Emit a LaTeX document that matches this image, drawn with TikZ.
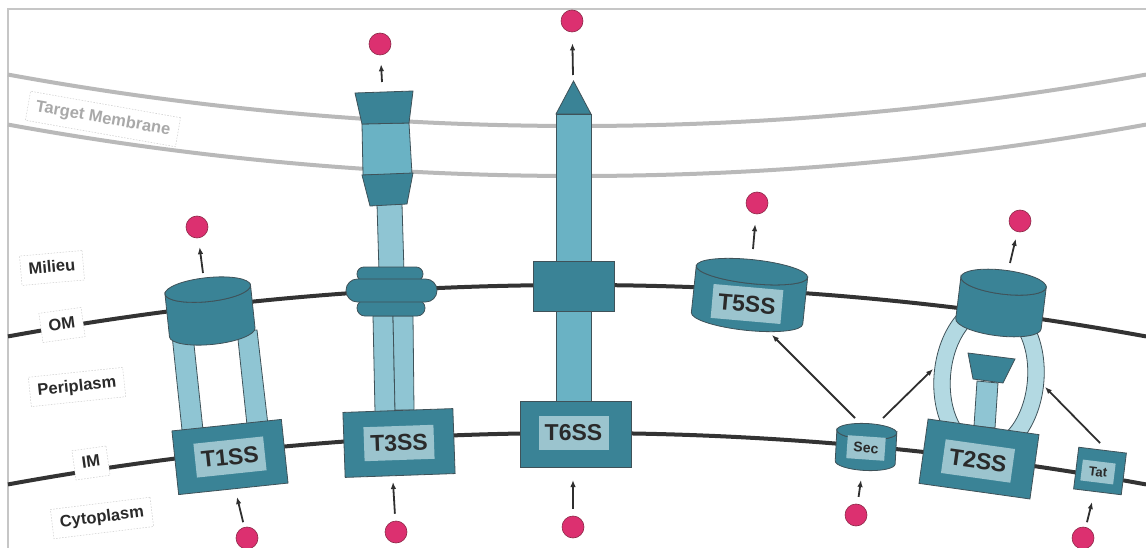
\documentclass[tikz,border=0pt]{standalone}
\usepackage{fontspec}
\setmainfont{Liberation Sans}
\usetikzlibrary{arrows.meta}

\definecolor{tealdark}{HTML}{3A8396}
\definecolor{tealmid}{HTML}{6AB2C4}
\definecolor{teallight}{HTML}{8FC5D3}
\definecolor{ringc}{HTML}{B3D9E2}
\definecolor{labfill}{HTML}{9BC4CE}
\definecolor{outlc}{HTML}{3F5259}
\definecolor{textc}{HTML}{2A2A2A}
\definecolor{memc}{HTML}{333333}
\definecolor{targetc}{HTML}{B9B9B9}
\definecolor{framec}{HTML}{C6C6C6}
\definecolor{pinkc}{HTML}{DC3070}
\definecolor{pinkedge}{HTML}{8C2848}
\definecolor{arrowc}{HTML}{2F2F2F}
\definecolor{targettext}{HTML}{A9A9A9}

% sag of the curved membranes (circle of radius 3174 around x = 577)
\newcommand\membranesag[1]{100*(31.74-sqrt(1007.43-((#1-577)/100)^2))}

\tikzset{
  outl/.style={draw=outlc, line width=0.8pt},
  darkpart/.style={fill=tealdark, outl},
  midpart/.style={fill=tealmid, outl},
  lightpart/.style={fill=teallight, outl},
  blockbox/.style={darkpart, shape=rectangle, inner sep=0pt},
  ringpart/.style={darkpart, shape=rectangle, inner sep=0pt},
  namebox/.style={fill=labfill, inner sep=0pt, text=textc,
    minimum width=70, minimum height=34,
    font=\bfseries\fontsize{23}{23}\selectfont},
  smallname/.style={fill=labfill, inner sep=0pt, text=textc,
    font=\bfseries\fontsize{14}{14}\selectfont},
  zone/.style={fill=white, draw=black!20, dash pattern=on 1.5pt off 1.5pt,
    line width=0.5pt, text=textc, inner xsep=8pt, inner ysep=7pt,
    text height=12pt, text depth=3.5pt,
    font=\bfseries\fontsize{16.5}{18}\selectfont},
  cellline/.style={draw=memc, line width=4pt},
  targetline/.style={draw=targetc, line width=4pt},
  frameline/.style={draw=framec, line width=2pt},
  flow/.style={draw=arrowc, line width=1.8pt, -{Latex[length=7pt,width=5.5pt]}},
  cargo/.style={circle, fill=pinkc, draw=pinkedge, line width=0.6pt,
    minimum size=22pt, inner sep=0pt},
  pics/drum/.style n args={3}{code={
    \path[darkpart] (-#1,#3/2) -- (-#1,-#3/2)
      arc[start angle=180,end angle=360,x radius=#1,y radius=#2]
      -- (#1,#3/2)
      arc[start angle=0,end angle=-180,x radius=#1,y radius=#2] -- cycle;
    \path[darkpart] (0,#3/2) ellipse[x radius=#1,y radius=#2];
  }},
}

\begin{document}
\begin{tikzpicture}[x=1pt,y=1pt]
\useasboundingbox (0,0) rectangle (1146,-548);

% frame
\draw[frameline] (8,-548) -- (8,-9) -- (1146,-9);

% target membrane
\draw[targetline] plot[domain=8:1146,samples=120] (\x,{\membranesag{\x}-126});
\draw[targetline] plot[domain=8:1146,samples=120] (\x,{\membranesag{\x}-176});

% outer and inner membranes
\draw[cellline] plot[domain=8:1146,samples=120] (\x,{-285-\membranesag{\x}});
\draw[cellline] plot[domain=8:1146,samples=120] (\x,{-433-\membranesag{\x}});

% ---------- T1SS ----------
\path[lightpart] (172,-335) -- (193,-335) -- (203,-430) -- (182,-430) -- cycle;
\path[lightpart] (237,-330) -- (257,-330) -- (268,-425) -- (247,-425) -- cycle;
\pic[rotate=6] at (210,-311) {drum={43}{12}{43}};
\node[blockbox, minimum width=110, minimum height=64, rotate=6] (t1) at (230,-457) {};
\node[namebox, rotate=6] (t1name) at (t1) {T1SS};

% ---------- T3SS ----------
\path[lightpart] (373,-316) -- (393,-316) -- (395,-412) -- (375,-412) -- cycle;
\path[lightpart] (393,-316) -- (413,-316) -- (414,-410) -- (395,-410) -- cycle;
\node[blockbox, minimum width=110, minimum height=65, rotate=2] (t3) at (399,-443) {};
\node[namebox, rotate=2] (t3name) at (t3) {T3SS};
\path[lightpart] (377,-204) -- (402,-204) -- (404,-272) -- (379,-272) -- cycle;
\node[ringpart, minimum width=66, minimum height=14, rounded corners=6.9pt] (ringtop) at (390,-274) {};
\node[ringpart, minimum width=68, minimum height=16, rounded corners=7.9pt] (ringbot) at (391,-308) {};
\node[ringpart, minimum width=91, minimum height=23, rounded corners=11.4pt] (ringmid) at (391.5,-290.5) {};
\path[midpart] (362,-124) -- (409,-123) -- (412,-174) -- (363,-175) -- cycle;
\path[darkpart] (362,-175) -- (413,-173) -- (407,-204) -- (370,-206) -- cycle;
\path[darkpart] (355,-93) -- (413,-91) -- (409,-123) -- (362,-124) -- cycle;

% ---------- T6SS ----------
\path[midpart] (556,-114) rectangle (591,-402);
\path[darkpart] (556,-114) -- (591,-114) -- (573.5,-81) -- cycle;
\node[blockbox, minimum width=81, minimum height=50] (t6om) at (573.5,-286) {};
\node[blockbox, minimum width=111, minimum height=66] (t6) at (575.5,-434) {};
\node[namebox] (t6name) at (573.5,-433) {T6SS};

% ---------- T5SS ----------
\pic[rotate=-6] at (749.5,-295) {drum={56}{12}{47}};
\node[namebox, rotate=-5] (t5name) at (747,-304) {T5SS};

% ---------- T2SS ----------
\begin{scope}[shift={(989,-378)}, rotate=-5]
  \path[fill=ringc, outl, even odd rule]
    (0,0) ellipse[x radius=55, y radius=82]
    (0,0) ellipse[x radius=38.5, y radius=64];
\end{scope}
\path[lightpart] (977,-381) -- (998,-383) -- (995,-428) -- (974,-426) -- cycle;
\path[darkpart] (968,-353) -- (1015,-359) -- (1003,-383) -- (973,-379) -- cycle;
\node[blockbox, minimum width=112, minimum height=65, rotate=-8] (t2) at (979,-459) {};
\node[namebox, rotate=-8] (t2name) at (978,-461) {T2SS};
\pic[rotate=-7] at (1001,-303) {drum={43}{12}{42}};

% ---------- Sec ----------
\pic[rotate=-3] at (866,-447) {drum={30}{8}{31}};
\node[smallname, minimum width=38, minimum height=23, rotate=-4] (secname) at (866,-448) {Sec};

% ---------- Tat ----------
\node[blockbox, minimum width=48, minimum height=42, rotate=-7] (tat) at (1100,-471) {};
\node[smallname, minimum width=33, minimum height=21, rotate=-7,
  font=\bfseries\fontsize{13}{13}\selectfont] (tatname) at (1098,-472) {Tat};

% ---------- compartment labels ----------
\node[zone, rotate=5] (milieu) at (52,-268) {Milieu};
\node[zone, rotate=8] (om) at (62,-325) {OM};
\node[zone, rotate=6] (peri) at (77,-387) {Periplasm};
\node[zone, rotate=8] (im) at (91,-463) {IM};
\node[zone, rotate=7] (cyto) at (102,-518) {Cytoplasm};
\node[zone, text=targettext, rotate=-10] (tm) at (103,-119) {Target Membrane};

% ---------- cargo ----------
\node[cargo] (c1u) at (197,-227) {};
\node[cargo] (c1d) at (247,-538) {};
\node[cargo] (c3u) at (380,-44) {};
\node[cargo] (c3d) at (396,-532) {};
\node[cargo] (c6u) at (572,-21) {};
\node[cargo] (c6d) at (573,-527) {};
\node[cargo] (c5u) at (757,-203) {};
\node[cargo] (csd) at (856,-515) {};
\node[cargo] (c2u) at (1020,-221) {};
\node[cargo] (ctd) at (1083,-538) {};

% secretion out of the cell
\coordinate (a1) at (203,-273);
\coordinate (a3) at (382,-82);
\coordinate (a6) at (573,-75);
\coordinate (a5) at (753,-249);
\coordinate (a2) at (1010,-263);
\draw[flow, shorten >=9pt] (a1) -- (c1u);
\draw[flow, shorten >=9pt] (a3) -- (c3u);
\draw[flow, shorten >=11pt] (a6) -- (c6u);
\draw[flow, shorten >=10pt] (a5) -- (c5u);
\draw[flow, shorten >=7pt] (a2) -- (c2u);

% uptake from the cytoplasm
\coordinate (b1) at (237,-497);
\coordinate (b3) at (393,-482);
\coordinate (b6) at (573,-480);
\coordinate (bs) at (861,-480);
\coordinate (bt) at (1092,-502);
\draw[flow, shorten <=5pt] (c1d) -- (b1);
\draw[flow, shorten <=7pt] (c3d) -- (b3);
\draw[flow, shorten <=7pt] (c6d) -- (b6);
\draw[flow, shorten <=7pt] (csd) -- (bs);
\draw[flow, shorten <=5pt] (ctd) -- (bt);

% Sec / Tat hand-over
\coordinate (s1) at (855,-418);
\coordinate (e1) at (772,-335);
\coordinate (s2) at (883,-418);
\coordinate (e2) at (933,-369);
\coordinate (s3) at (1100,-443);
\coordinate (e3) at (1045,-387);
\draw[flow] (s1) -- (e1);
\draw[flow] (s2) -- (e2);
\draw[flow] (s3) -- (e3);

\end{tikzpicture}
\end{document}
